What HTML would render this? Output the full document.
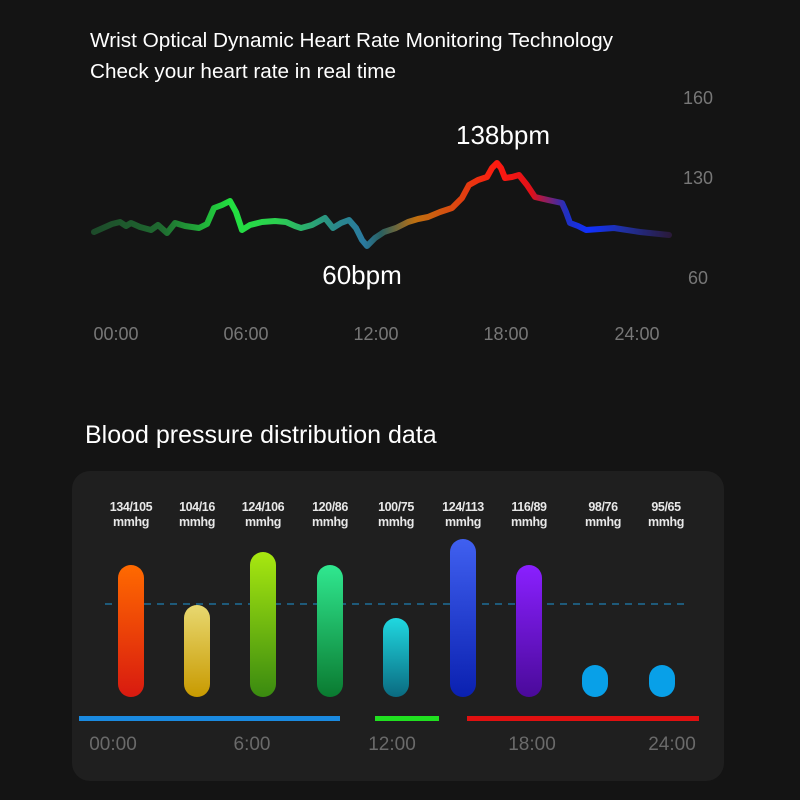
<!DOCTYPE html>
<html><head><style>
body{margin:0;background:#141414;}
svg{display:block;font-family:"Liberation Sans",sans-serif;}
</style></head><body>
<svg width="800" height="800" viewBox="0 0 800 800">
<defs>
<linearGradient id="hr" gradientUnits="userSpaceOnUse" x1="92" y1="0" x2="670" y2="0">
<stop offset="0" stop-color="#1d4a2a"/>
<stop offset="0.12" stop-color="#1f6a30"/>
<stop offset="0.24" stop-color="#22e040"/>
<stop offset="0.32" stop-color="#2cd050"/>
<stop offset="0.42" stop-color="#2a8a8a"/>
<stop offset="0.47" stop-color="#2a7aa0"/>
<stop offset="0.5" stop-color="#2a6060"/>
<stop offset="0.56" stop-color="#c07010"/>
<stop offset="0.64" stop-color="#e04010"/>
<stop offset="0.7" stop-color="#ff1a10"/>
<stop offset="0.76" stop-color="#e01018"/>
<stop offset="0.82" stop-color="#2030c0"/>
<stop offset="0.86" stop-color="#1030ff"/>
<stop offset="0.92" stop-color="#2030a0"/>
<stop offset="1" stop-color="#2a1a3a"/>
</linearGradient>
<linearGradient id="b1" x1="0" y1="0" x2="0" y2="1"><stop offset="0" stop-color="#ff6a00"/><stop offset="1" stop-color="#d81a10"/></linearGradient>
<linearGradient id="b2" x1="0" y1="0" x2="0" y2="1"><stop offset="0" stop-color="#e8d870"/><stop offset="1" stop-color="#c89a00"/></linearGradient>
<linearGradient id="b3" x1="0" y1="0" x2="0" y2="1"><stop offset="0" stop-color="#a8e810"/><stop offset="1" stop-color="#3a8a10"/></linearGradient>
<linearGradient id="b4" x1="0" y1="0" x2="0" y2="1"><stop offset="0" stop-color="#30e890"/><stop offset="1" stop-color="#0a7a30"/></linearGradient>
<linearGradient id="b5" x1="0" y1="0" x2="0" y2="1"><stop offset="0" stop-color="#20d8e0"/><stop offset="1" stop-color="#0a6a80"/></linearGradient>
<linearGradient id="b6" x1="0" y1="0" x2="0" y2="1"><stop offset="0" stop-color="#4060f0"/><stop offset="1" stop-color="#0a20b0"/></linearGradient>
<linearGradient id="b7" x1="0" y1="0" x2="0" y2="1"><stop offset="0" stop-color="#8a20ff"/><stop offset="1" stop-color="#4a0a9a"/></linearGradient>
</defs>
<text x="90" y="47" fill="#fff" font-size="20" textLength="523" lengthAdjust="spacingAndGlyphs">Wrist Optical Dynamic Heart Rate Monitoring Technology</text>
<text x="90" y="78" fill="#fff" font-size="20" textLength="306" lengthAdjust="spacingAndGlyphs">Check your heart rate in real time</text>
<g fill="#777" font-size="18" text-anchor="middle">
<text x="698" y="104">160</text><text x="698" y="184">130</text><text x="698" y="284">60</text>
</g>
<g fill="#777" font-size="18" text-anchor="middle">
<text x="116" y="340">00:00</text><text x="246" y="340">06:00</text><text x="376" y="340">12:00</text><text x="506" y="340">18:00</text><text x="637" y="340">24:00</text>
</g>
<text x="503" y="144" fill="#fff" font-size="26" text-anchor="middle">138bpm</text>
<text x="362" y="284" fill="#fff" font-size="26" text-anchor="middle">60bpm</text>
<path d="M94,232 L103,228 L112,224 L120,222 L126,226 L131,223 L140,227 L151,230 L158,225 L167,233 L175,223 L185,226 L199,228 L207,224 L214,208 L222,205 L230,201 L236,212 L242,230 L250,225 L262,222 L275,221 L286,222 L295,226 L301,228 L312,225 L325,218 L329,223 L333,228 L341,223 L349,220 L356,228 L362,240 L367,246 L375,238 L384,232 L396,228 L408,222 L418,219 L428,217 L440,212 L452,208 L462,198 L469,185 L478,180 L487,177 L492,168 L497,163 L501,168 L505,178 L512,177 L519,175 L527,185 L535,197 L548,200 L562,203 L566,212 L570,223 L578,226 L586,230 L600,229 L614,228 L640,232 L669,235" fill="none" stroke="url(#hr)" stroke-width="6" stroke-linejoin="round" stroke-linecap="round"/>
<text x="85" y="443" fill="#fff" font-size="25">Blood pressure distribution data</text>
<rect x="72" y="471" width="652" height="310" rx="18" fill="#1f1f1f"/>
<line x1="105" y1="604" x2="690" y2="604" stroke="#1e5a7a" stroke-width="2" stroke-dasharray="7,6"/>
<g fill="#e8e8e8" font-size="12.5" text-anchor="middle" style="font-weight:bold;letter-spacing:-0.4px">
<text x="131" y="511">134/105</text><text x="131" y="526">mmhg</text>
<text x="197" y="511">104/16</text><text x="197" y="526">mmhg</text>
<text x="263" y="511">124/106</text><text x="263" y="526">mmhg</text>
<text x="330" y="511">120/86</text><text x="330" y="526">mmhg</text>
<text x="396" y="511">100/75</text><text x="396" y="526">mmhg</text>
<text x="463" y="511">124/113</text><text x="463" y="526">mmhg</text>
<text x="529" y="511">116/89</text><text x="529" y="526">mmhg</text>
<text x="603" y="511">98/76</text><text x="603" y="526">mmhg</text>
<text x="666" y="511">95/65</text><text x="666" y="526">mmhg</text>
</g>
<rect x="118" y="565" width="26" height="132" rx="13" fill="url(#b1)"/>
<rect x="184" y="605" width="26" height="92" rx="13" fill="url(#b2)"/>
<rect x="250" y="552" width="26" height="145" rx="13" fill="url(#b3)"/>
<rect x="317" y="565" width="26" height="132" rx="13" fill="url(#b4)"/>
<rect x="383" y="618" width="26" height="79" rx="13" fill="url(#b5)"/>
<rect x="450" y="539" width="26" height="158" rx="13" fill="url(#b6)"/>
<rect x="516" y="565" width="26" height="132" rx="13" fill="url(#b7)"/>
<rect x="582" y="665" width="26" height="32" rx="13" fill="#08a0e8"/>
<rect x="649" y="665" width="26" height="32" rx="13" fill="#08a0e8"/>
<rect x="79" y="716" width="261" height="5" fill="#1a8ae0"/>
<rect x="375" y="716" width="64" height="5" fill="#20e020"/>
<rect x="467" y="716" width="232" height="5" fill="#e01010"/>
<g fill="#6a6a6a" font-size="19" text-anchor="middle">
<text x="113" y="750">00:00</text><text x="252" y="750">6:00</text><text x="392" y="750">12:00</text><text x="532" y="750">18:00</text><text x="672" y="750">24:00</text>
</g>
</svg>
</body></html>
